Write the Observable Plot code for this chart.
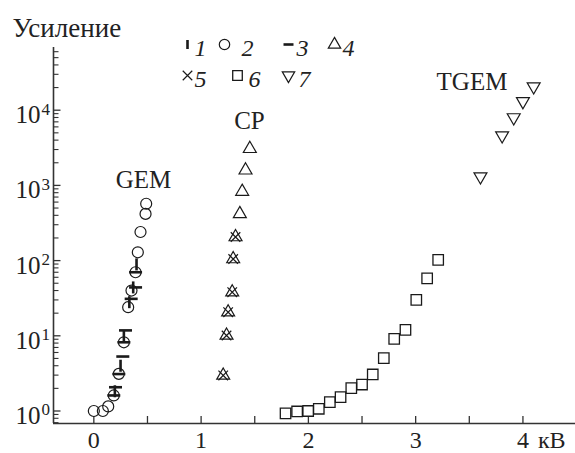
<!DOCTYPE html>
<html><head><meta charset="utf-8">
<script src="https://cdn.jsdelivr.net/npm/d3@7"></script>
<script src="https://cdn.jsdelivr.net/npm/@observablehq/plot@0.6"></script>
<style>body{margin:0;background:#fff}</style>
</head><body><div id="chart"></div>
<script>
// ---- data: [kV, gain] ----
const series1 = [[0.196,1.83],[0.249,4.0],[0.28,9.8],[0.331,28],[0.367,44],[0.398,89]];
const series2 = [[0.0,1.0],[0.084,1.0],[0.134,1.15],[0.186,1.61],[0.233,3.12],[0.28,8.2],[0.32,24],[0.351,40],[0.389,70],[0.41,129],[0.435,240],[0.482,418],[0.488,570]];
const series3 = [[0.186,1.61],[0.202,2.07],[0.233,3.1],[0.27,5.3],[0.28,8.2],[0.295,11.8],[0.348,31],[0.389,44],[0.389,70]];
const series4 = [[1.206,2.97],[1.237,10.1],[1.252,20.6],[1.29,38],[1.299,105],[1.321,206],[1.361,418],[1.383,828],[1.414,1590],[1.454,3070]];
const series5 = [[1.206,2.97],[1.237,10.1],[1.252,20.6],[1.29,38],[1.299,105],[1.321,206]];
const series6 = [[1.787,0.93],[1.895,0.985],[1.998,1.0],[2.097,1.07],[2.2,1.31],[2.3,1.53],[2.4,2.01],[2.5,2.25],[2.6,3.06],[2.703,5.04],[2.8,9.1],[2.905,12.0],[3.006,30.1],[3.107,58],[3.21,102]];
const series7 = [[3.604,1310],[3.806,4600],[3.914,8000],[4.0,13100],[4.10,20600]];

const xTicks = [0,0.5,1,1.5,2,2.5,3,3.5,4];
const xTickLabels = ["0","1","2","3","4"];
const xLabelValues = [0,1,2,3,4];
const yMajor = [1,10,100,1000,10000];
const yExp = ["0","1","2","3","4"];
const legendLabels = ["1","2","3","4","5","6","7"];
const annotations = [{text:"GEM", x:0.463, y:1162},{text:"CP", x:1.451, y:7180},{text:"TGEM", x:3.525, y:23400}];
const unitLabel = "кВ";
const yTitle = "Усиление";

const xDomain = [-0.376, 4.49];
const yDomain = [0.682, 68200];
const yMinor = [];
for (const d of [0.1,1,10,100,1000,10000]) for (let k=2;k<=9;k++){const v=k*d; if (v>yDomain[0] && v<yDomain[1] && !yMajor.includes(v)) yMinor.push(v);}

// ---- symbols ----
const rad = s => Math.sqrt(s/Math.PI);
const vbar = {draw(c,s){const h=rad(s); c.moveTo(0,-h); c.lineTo(0,h);}};
const hbar = {draw(c,s){const h=rad(s); c.moveTo(-h,0); c.lineTo(h,0);}};
const triDown = {draw(c,s){const y=Math.sqrt(s/(Math.sqrt(3)*3)); c.moveTo(0,2*y); c.lineTo(-Math.sqrt(3)*y,-y); c.lineTo(Math.sqrt(3)*y,-y); c.closePath();}};
const tickRight = {draw(c,s){const l=rad(s); c.moveTo(0,0); c.lineTo(l,0);}};
const tickUp = {draw(c,s){const l=rad(s); c.moveTo(0,0); c.lineTo(0,-l);}};

const ink = "#1a1a1a";
const spec = [
  {data:series1, symbol:vbar, r:6, sw:2.6, lr:4.5},
  {data:series2, symbol:"circle", r:5.5, sw:1.2, lr:5.2},
  {data:series3, symbol:hbar, r:6.5, sw:2.6, lr:5},
  {data:series4, symbol:"triangle", r:4.8, sw:1.2, lr:4.6},
  {data:series5, symbol:"times", r:4.4, sw:1.2, lr:4.4},
  {data:series6, symbol:"square", r:5.9, sw:1.3, lr:5.4},
  {data:series7, symbol:triDown, r:4.8, sw:1.2, lr:4.6}
];
const legendPos = [
  {dx:134, dy:-3, tx:141}, {dx:171, dy:-3, tx:188}, {dx:235, dy:-3, tx:243}, {dx:281, dy:-3, tx:289},
  {dx:134, dy:28, tx:141}, {dx:184, dy:28, tx:195}, {dx:235, dy:28, tx:245}
];

const marks = [
  Plot.ruleX([xDomain[0]], {stroke:"#333", strokeWidth:1.6}),
  Plot.ruleY([yDomain[0]], {stroke:"#333", strokeWidth:1.6}),
  Plot.dot(yMajor, {x:()=>xDomain[0], y:d=>d, symbol:tickRight, r:7, stroke:"#333", strokeWidth:1.3}),
  Plot.dot(yMinor, {x:()=>xDomain[0], y:d=>d, symbol:tickRight, r:5, stroke:"#333", strokeWidth:1.1}),
  Plot.dot(xTicks, {x:d=>d, y:()=>yDomain[0], symbol:tickUp, r:7.5, stroke:"#333", strokeWidth:1.3}),
  Plot.text(xLabelValues, {x:d=>d, y:()=>yDomain[0], text:(d,i)=>xTickLabels[i], lineAnchor:"top", dy:7, fontSize:24, fill:"#222"}),
  Plot.text([4], {x:d=>d, y:()=>yDomain[0], text:()=>unitLabel, lineAnchor:"top", dy:7, dx:15, textAnchor:"start", fontSize:24, fill:"#222"}),
  Plot.text(yMajor, {x:()=>xDomain[0], y:d=>d, text:()=>"10", textAnchor:"end", dx:-13, dy:5, fontSize:25, fill:"#222"}),
  Plot.text(yMajor, {x:()=>xDomain[0], y:d=>d, text:(d,i)=>yExp[i], textAnchor:"start", dx:-12, dy:-1, fontSize:17, fill:"#222"}),
  Plot.text([yTitle], {frameAnchor:"top-left", text:d=>d, textAnchor:"start", dx:-41, dy:-30, fontSize:27, fill:"#222"}),
  Plot.text(annotations, {x:"x", y:"y", text:"text", fontSize:25, fill:"#222"}),
];
spec.forEach((s,i)=>{
  marks.push(Plot.dot(s.data, {x:d=>d[0], y:d=>d[1], symbol:s.symbol, r:s.r, stroke:ink, fill:"none", strokeWidth:s.sw}));
  const p = legendPos[i];
  marks.push(Plot.dot([0], {frameAnchor:"top-left", dx:p.dx, dy:p.dy, symbol:s.symbol, r:s.lr, stroke:ink, fill:"none", strokeWidth:s.sw}));
  marks.push(Plot.text([legendLabels[i]], {frameAnchor:"top-left", text:d=>d, dx:p.tx, dy:p.dy-6, textAnchor:"start", fontSize:24, fontStyle:"italic", fill:"#222"}));
});

const chart = Plot.plot({
  width:575, height:453,
  marginLeft:53, marginRight:0, marginTop:47, marginBottom:30,
  style:{fontFamily:"'Liberation Serif', 'Times New Roman', serif", background:"#fff", overflow:"visible"},
  x:{domain:xDomain, axis:null},
  y:{type:"log", domain:yDomain, axis:null},
  marks
});
document.getElementById("chart").append(chart);
</script>
</body></html>
